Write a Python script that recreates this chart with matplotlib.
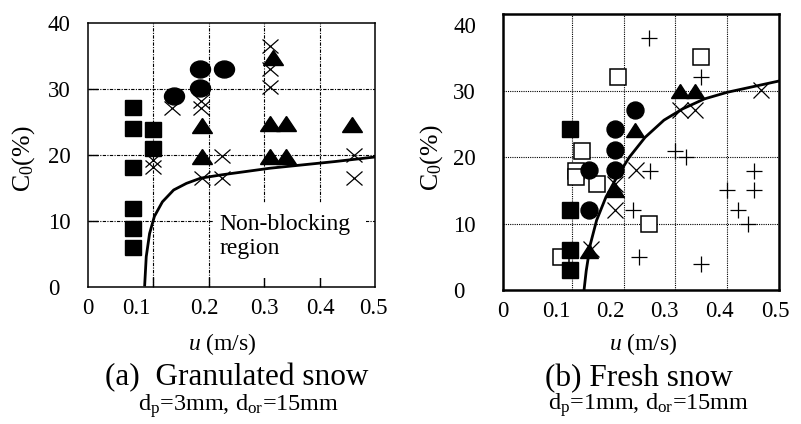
import matplotlib
matplotlib.use("Agg")
import matplotlib.pyplot as plt
from matplotlib.markers import MarkerStyle
from matplotlib.transforms import Affine2D
from matplotlib.patches import Rectangle

plt.rcParams["font.family"] = "Liberation Serif"
plt.rcParams["mathtext.fontset"] = "custom"
plt.rcParams["mathtext.rm"] = "Liberation Serif"
plt.rcParams["mathtext.it"] = "Liberation Serif:italic"

# ---- (a) granulated snow ----
a_sq_u = [0.064, 0.064, 0.064, 0.064, 0.064, 0.064, 0.099, 0.099]
a_sq_c = [27.2, 24.1, 18.2, 11.9, 9.0, 6.0, 24.0, 21.1]
a_ci_u = [0.137, 0.184, 0.184, 0.227]
a_ci_c = [28.9, 30.2, 33.1, 33.1]
a_tr_u = [0.188, 0.188, 0.316, 0.311, 0.311, 0.340, 0.340, 0.459]
a_tr_c = [24.5, 19.9, 34.8, 24.8, 19.9, 24.8, 19.9, 24.7]
a_x_u = [0.134, 0.187, 0.187, 0.099, 0.099, 0.224, 0.189, 0.224,
         0.311, 0.311, 0.311, 0.463, 0.463]
a_x_c = [27.1, 28.2, 27.1, 19.2, 18.2, 19.9, 16.5, 16.5,
         36.5, 33.1, 30.3, 20.0, 16.5]
a_curve_u = [0.0848, 0.0876, 0.0936, 0.1023, 0.1167, 0.137, 0.160, 0.186,
             0.224, 0.311, 0.427, 0.500]
a_curve_c = [0.3, 4.6, 8.1, 10.7, 12.9, 14.7, 15.7, 16.5,
             17.0, 18.0, 19.0, 19.7]

# ---- (b) fresh snow ----
b_sq_u = [0.097, 0.097, 0.097, 0.097]
b_sq_c = [24.2, 12.1, 6.0, 3.0]
b_ci_u = [0.223, 0.183, 0.183, 0.133, 0.183, 0.133]
b_ci_c = [27.2, 24.2, 21.1, 18.1, 18.1, 12.1]
b_tr_u = [0.223, 0.183, 0.133, 0.308, 0.338]
b_tr_c = [24.1, 15.0, 5.9, 30.0, 30.0]
b_os_u = [0.189, 0.350, 0.119, 0.109, 0.109, 0.149, 0.249, 0.0785]
b_os_c = [32.1, 35.1, 21.0, 17.9, 17.0, 16.0, 10.0, 4.9]
b_x_u = [0.308, 0.338, 0.465, 0.225, 0.183, 0.183, 0.137]
b_x_c = [27.2, 27.2, 30.1, 18.1, 16.0, 12.1, 6.2]
b_p_u = [0.249, 0.350, 0.300, 0.320, 0.251, 0.219, 0.229, 0.350,
         0.400, 0.451, 0.451, 0.421, 0.441]
b_p_c = [38.0, 32.1, 21.0, 20.1, 18.0, 12.1, 5.0, 3.9,
         15.0, 18.0, 15.0, 12.1, 10.0]
b_curve_u = [0.1238, 0.128, 0.136, 0.148, 0.166, 0.187, 0.211, 0.2415,
             0.278, 0.314, 0.356, 0.400, 0.453, 0.500]
b_curve_c = [0.0, 2.9, 6.9, 10.5, 14.0, 17.0, 20.0, 23.0,
             25.6, 27.3, 28.8, 29.8, 30.7, 31.5]

xtick_text = ["0", "0.1", "0.2", "0.3", "0.4", "0.5"]
a_xtick_pos = [-0.0174, 0.0697, 0.193, 0.301, 0.401, 0.497]
b_xtick_pos = [-0.0326, 0.0707, 0.174, 0.279, 0.386, 0.493]
ytick_vals = [0, 10, 20, 30, 40]
grid_u = [0.1, 0.2, 0.3, 0.4]
grid_c = [10, 20, 30]


def mk(m, sx):
    return MarkerStyle(m, transform=Affine2D().scale(sx, 1.0))


fig = plt.figure(figsize=(8.01, 4.24), dpi=100)
axa = fig.add_axes([88 / 801, 137 / 424, 287 / 801, 264 / 424])
axb = fig.add_axes([503 / 801, 134 / 424, 276 / 801, 276 / 424])

for ax, top, xpos, ls, ypad in [(axa, 40, a_xtick_pos, (0, (3, 1.2, 1, 1.2)), 29),
                                 (axb, 41.6, b_xtick_pos, (0, (1, 1)), 36)]:
    ax.xaxis.remove_overlapping_locs = False
    ax.yaxis.remove_overlapping_locs = False
    ax.set_xlim(0, 0.5)
    ax.set_ylim(0, top)
    ax.set_xticks(xpos, xtick_text)
    ax.set_xticks(grid_u, minor=True)
    ax.set_yticks(ytick_vals)
    ax.set_yticks(grid_c, minor=True)
    ax.tick_params(axis="x", which="major", length=0, pad=8, labelsize=16.5)
    ax.tick_params(axis="y", which="major", length=0, pad=ypad, labelsize=16.5)
    for lab in ax.get_yticklabels():
        lab.set_horizontalalignment("left")
    ax.grid(which="minor", color="black", linestyle=ls, linewidth=0.8)
    ax.set_axisbelow(True)

axa.tick_params(which="minor", direction="in", length=7, width=1.0)
axb.tick_params(which="minor", length=0)
for s in axa.spines.values():
    s.set_linewidth(1.1)
for s in axb.spines.values():
    s.set_linewidth(1.8)

# panel (a)
axa.add_patch(Rectangle((0.209, 1.3), 0.274, 11.4, facecolor="white",
                        edgecolor="none", zorder=1.5))
axa.plot(a_x_u, a_x_c, ls="none", marker=mk("x", 1.15), ms=9.8,
         mec="black", mew=0.9, zorder=2)
axa.plot(a_sq_u, a_sq_c, ls="none", marker=mk("s", 1.13), ms=10.8,
         mfc="black", mec="black", zorder=3)
axa.plot(a_ci_u, a_ci_c, ls="none", marker=mk("o", 1.18), ms=12.2,
         mfc="black", mec="black", zorder=3)
axa.plot(a_tr_u, a_tr_c, ls="none", marker=mk("^", 1.35), ms=10.8,
         mfc="black", mec="black", zorder=3)
axa.plot(a_curve_u, a_curve_c, color="black", lw=2.0, zorder=4)
axa.text(0.219, 7.7, "Non-blocking\nregion", fontsize=17, ha="left",
         va="center", zorder=5)

# panel (b)
axb.plot(b_os_u, b_os_c, ls="none", marker="s", ms=11.2, mfc="white",
         mec="black", mew=1.1, zorder=2)
axb.plot(b_x_u, b_x_c, ls="none", marker="x", ms=12.2, mec="black",
         mew=0.9, zorder=2)
axb.plot(b_p_u, b_p_c, ls="none", marker="+", ms=12.2, mec="black",
         mew=0.9, zorder=2)
axb.plot(b_sq_u, b_sq_c, ls="none", marker="s", ms=11.5, mfc="black",
         mec="black", zorder=3)
axb.plot(b_ci_u, b_ci_c, ls="none", marker="o", ms=12.2, mfc="black",
         mec="black", zorder=3)
axb.plot(b_tr_u, b_tr_c, ls="none", marker=mk("^", 1.3), ms=10,
         mfc="black", mec="black", zorder=3)
axb.plot(b_curve_u, b_curve_c, color="black", lw=2.0, zorder=4)

# axis titles and captions
fig.text(24 / 801, 1 - 159 / 424, r"C$_\mathrm{0}$(%)", rotation=90,
         ha="center", va="center", fontsize=18.5)
fig.text(432 / 801, 1 - 158 / 424, r"C$_\mathrm{0}$(%)", rotation=90,
         ha="center", va="center", fontsize=18.5)
fig.text(222 / 801, 1 - 350 / 424, r"$u$ (m/s)", ha="center",
         va="baseline", fontsize=17)
fig.text(643 / 801, 1 - 350 / 424, r"$u$ (m/s)", ha="center",
         va="baseline", fontsize=17)
fig.text(237 / 801, 1 - 385 / 424, "(a)  Granulated snow", ha="center",
         va="baseline", fontsize=22.5)
fig.text(639 / 801, 1 - 386 / 424, "(b) Fresh snow", ha="center",
         va="baseline", fontsize=22.5)
fig.text(239 / 801, 1 - 411 / 424, r"d$_\mathrm{p}$=3mm, d$_\mathrm{or}$=15mm",
         ha="center", va="baseline", fontsize=17.5)
fig.text(649 / 801, 1 - 410 / 424, r"d$_\mathrm{p}$=1mm, d$_\mathrm{or}$=15mm",
         ha="center", va="baseline", fontsize=17.5)

fig.savefig("out.png", dpi=100)
